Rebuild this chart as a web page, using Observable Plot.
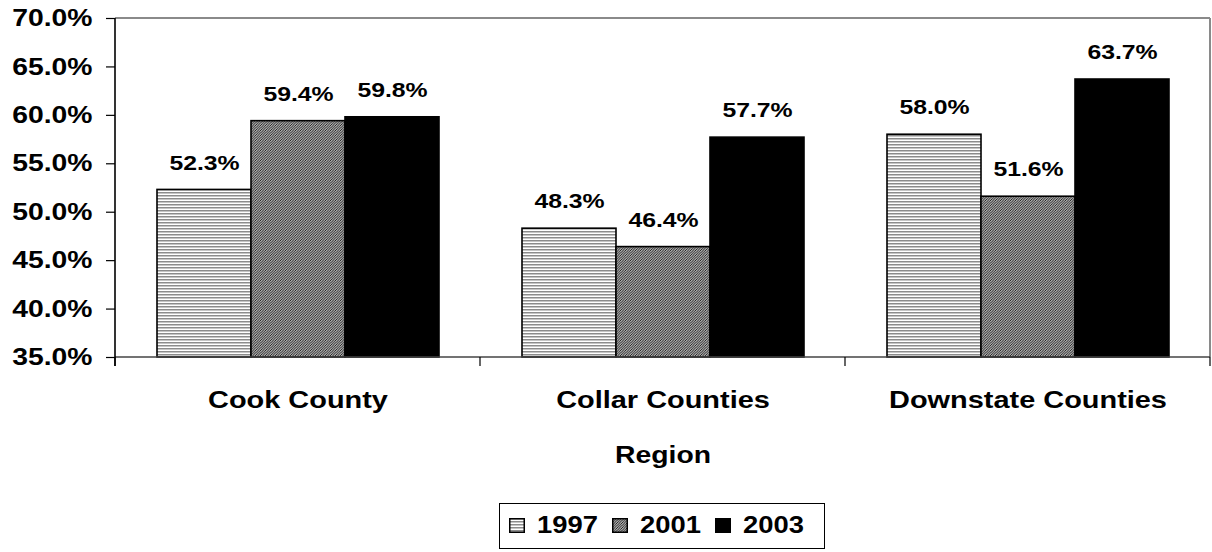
<!DOCTYPE html>
<html>
<head>
<meta charset="utf-8">
<script src="https://cdn.jsdelivr.net/npm/d3@7"></script>
<script src="https://cdn.jsdelivr.net/npm/@observablehq/plot@0.6"></script>
<style>
  html, body { margin: 0; padding: 0; background: white; }
  body { width: 1212px; height: 552px; overflow: hidden; font-family: "Liberation Sans", Arial, sans-serif; font-weight: bold; }
  #legend { position: absolute; left: 499px; top: 503px; width: 326px; height: 46px; box-sizing: border-box; border: 1.5px solid black; }
  .item { position: absolute; top: 0; height: 43px; display: flex; align-items: center; }
  .item svg { display: block; }
  .item span { display: inline-block; font-size: 23px; margin-left: 12px; transform: scaleX(1.19); transform-origin: left center; line-height: 1; }
</style>
</head>
<body>
<div id="chart"></div>
<div id="legend"></div>
<script>
// ---- data ----
const regions = ["Cook County", "Collar Counties", "Downstate Counties"];
const years = ["1997", "2001", "2003"];
const v1997 = [52.3, 48.3, 58.0];
const v2001 = [59.4, 46.4, 51.6];
const v2003 = [59.8, 57.7, 63.7];
const yTicks = [35, 40, 45, 50, 55, 60, 65, 70];
const axisTitle = "Region";

const series = {"1997": v1997, "2001": v2001, "2003": v2003};
const data = [];
regions.forEach((r, i) => years.forEach(y => data.push({region: r, year: y, value: series[y][i]})));

const fills = {"1997": "url(#p1997)", "2001": "url(#p2001)", "2003": "black"};
const yMin = yTicks[0], yMax = yTicks[yTicks.length - 1];
const font = "'Liberation Sans', Arial, sans-serif";

function frameRender(index, scales, values, dims, ctx, next) {
  const inner = next(index, scales, values, dims, ctx);
  const wrap = d3.create("svg:g");
  wrap.node().append(inner);
  const {width, height, marginLeft, marginRight, marginTop, marginBottom} = dims;
  const y = scales.y;
  const x0 = marginLeft, x1 = width - marginRight;
  const yb = y ? y(yMin) : height - marginBottom;
  const yt = y ? y(yMax) : marginTop;
  let bounds;
  if (scales.fx && scales.fx.bandwidth) {
    bounds = regions.map(r => scales.fx(r));
    bounds.push(scales.fx(regions[regions.length - 1]) + scales.fx.bandwidth());
  } else {
    bounds = d3.range(regions.length + 1).map(i => x0 + i * (x1 - x0) / regions.length);
  }
  const s = wrap;
  // top & right border (gray)
  s.append("line").attr("x1", x0).attr("x2", x1).attr("y1", yt).attr("y2", yt)
    .attr("stroke", "#8a8a8a").attr("stroke-width", 2);
  s.append("line").attr("x1", x1).attr("x2", x1).attr("y1", yt).attr("y2", yb)
    .attr("stroke", "#8a8a8a").attr("stroke-width", 2);
  // bottom axis line
  s.append("line").attr("x1", x0).attr("x2", x1).attr("y1", yb).attr("y2", yb)
    .attr("stroke", "#444").attr("stroke-width", 1.6);
  // category boundary ticks
  bounds.forEach(b => s.append("line").attr("x1", b).attr("x2", b).attr("y1", yb).attr("y2", yb + 9)
    .attr("stroke", "black").attr("stroke-width", 1.2));
  // left axis line (black)
  s.append("line").attr("x1", x0).attr("x2", x0).attr("y1", yt).attr("y2", yb + 9)
    .attr("stroke", "black").attr("stroke-width", 1.6);
  return wrap.node();
}

const chart = Plot.plot({
  width: 1212,
  height: 480,
  marginLeft: 114,
  marginRight: 2,
  marginTop: 18,
  marginBottom: 123,
  style: {fontFamily: font, fontWeight: "bold", fontSize: "24px", color: "black", background: "white", overflow: "visible"},
  fx: {domain: regions, padding: 0, label: null, axis: null},
  x: {domain: years, paddingInner: 0, paddingOuter: 0.44, axis: null},
  y: {domain: [yMin, yMax], axis: null},
  color: {type: "ordinal", domain: years, range: years.map(y => fills[y])},
  marks: [
    Plot.barY(data, {fx: "region", x: "year", y1: yMin, y2: "value", fill: "year", stroke: "black", strokeWidth: 1.6}),
    Plot.text(data, {fx: "region", x: "year", y: "value", text: d => d.value.toFixed(1) + "%", dy: -27, fontSize: 21, fontWeight: "bold", fill: "black"}),
    Plot.axisY(yTicks, {tickSize: 9, tickPadding: 14, tickFormat: d => d.toFixed(1) + "%", fontSize: 24, fontWeight: "bold", label: null, stroke: "black", strokeWidth: 1.2}),
    Plot.axisFx({anchor: "bottom", tickSize: 0, tickPadding: 33, fontSize: 24.5, fontWeight: "bold", label: null}),
    Plot.text([axisTitle], {facet: "super", frameAnchor: "bottom", lineAnchor: "top", dy: 88, fontSize: 24, fontWeight: "bold", fill: "black", render: frameRender})
  ]
});

// patterns
const defs = d3.select(chart).insert("defs", ":first-child");
const p1 = defs.append("pattern").attr("id", "p1997").attr("patternUnits", "userSpaceOnUse").attr("width", 6).attr("height", 3);
p1.append("rect").attr("width", 6).attr("height", 3).attr("fill", "white");
p1.append("rect").attr("y", 0).attr("width", 6).attr("height", 1.5).attr("fill", "#8c8c8c");
const p2 = defs.append("pattern").attr("id", "p2001").attr("patternUnits", "userSpaceOnUse").attr("width", 2.5).attr("height", 2.5);
p2.append("rect").attr("width", 2.5).attr("height", 2.5).attr("fill", "white");
p2.append("path").attr("d", "M-1,1 l2,-2 M0,2.5 l2.5,-2.5 M1.5,3.5 l2,-2").attr("stroke", "#000").attr("stroke-width", 1.0);

document.getElementById("chart").append(chart);

// stretch text horizontally to match reference proportions
d3.select(chart).selectAll("text").each(function() {
  const len = this.getComputedTextLength();
  if (len > 0) {
    this.setAttribute("textLength", len * 1.18);
    this.setAttribute("lengthAdjust", "spacingAndGlyphs");
  }
});

// legend
const legend = d3.select("#legend");
years.forEach((y, i) => {
  const item = legend.append("div").attr("class", "item").style("left", (9 + i * 103) + "px");
  const sw = item.append("svg").attr("width", 16).attr("height", 15);
  sw.append("rect").attr("x", 0.75).attr("y", 0.75).attr("width", 14.5).attr("height", 13.5)
    .attr("fill", fills[y]).attr("stroke", "black").attr("stroke-width", 1.5);
  item.append("span").text(y);
});
</script>
</body>
</html>
